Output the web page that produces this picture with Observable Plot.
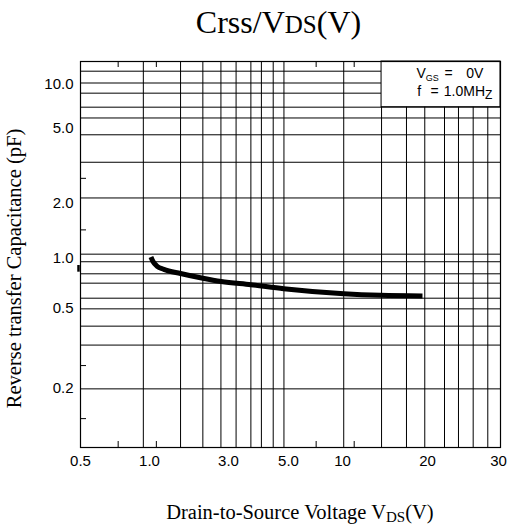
<!DOCTYPE html>
<html>
<head>
<meta charset="utf-8">
<script src="https://cdn.jsdelivr.net/npm/d3@7"></script>
<script src="https://cdn.jsdelivr.net/npm/@observablehq/plot@0.6"></script>
<style>
  body { margin: 0; background: #fff; }
  svg { display: block; }
</style>
</head>
<body>
<div id="chart"></div>
<script>
// ---- Axis ticks as printed ----
const xTicks = [0.5, 1, 3, 5, 10, 20, 30];
const xTickLabels = ["0.5", "1.0", "3.0", "5.0", "10", "20", "30"];
const yTicks = [0.2, 0.5, 1, 2, 5, 10];
const yTickLabels = ["0.2", "0.5", "1.0", "2.0", "5.0", "10.0"];

// ---- Grid lines (values on the printed axes) ----
const gridX = [0.94, 1.54, 2.10, 2.70, 3.20, 3.63, 3.97, 4.39, 4.81, 10.1, 13.75, 16.85, 19.56, 22.04, 23.87, 25.96, 28.22];
const gridY = [12.11, 10.15, 8.67, 6.97, 5.89, 4.63, 3.31, 2.14, 1.05, 0.95, 0.805, 0.708, 0.576, 0.498, 0.408, 0.328, 0.198];
const minorX = [0.73, 1.10, 7.13, 11.0];
const minorY = [2.72, 1.43, 0.259, 0.140];

// ---- Curve: Crss vs VDS ----
const vds  = [1.02, 1.05, 1.113, 1.22, 1.54, 2.10, 2.71, 3.63, 4.80, 10.11, 13.63, 19.2];
const crss = [1.013, 0.953, 0.892, 0.856, 0.808, 0.757, 0.724, 0.693, 0.656, 0.612, 0.599, 0.594];
const curve = vds.map((v, i) => ({vds: v, crss: crss[i]}));

// ---- Legend box extent (in axis values) ----
const legendX = [13.75, 30.3];
const legendY = [6.97, 14];

const titleText = "Crss/VDS(V)";
const xLabel = "Drain-to-Source Voltage VDS(V)";
const yLabel = "Reverse transfer Capacitance (pF)";
const legend1 = "VGS = 0V";
const legend2 = "f = 1.0MHZ";

const serif = "Liberation Serif";
const sans = "Liberation Sans";

const plot = Plot.plot({
  width: 507,
  height: 531,
  marginLeft: 80,
  marginRight: 7,
  marginTop: 61,
  marginBottom: 84,
  style: {fontFamily: sans, fontSize: "15px", background: "#fff", color: "#000"},
  x: {type: "log", domain: [0.5, 1, 3, 5, 10, 20, 30, 30.3], range: [80, 149, 228, 288, 342, 427, 498, 500], label: null, axis: null},
  y: {type: "log", domain: [0.1, 0.2, 0.5, 1, 2, 5, 10, 14], range: [447, 387.5, 308, 257.5, 203, 128, 83.5, 61], label: null, axis: null},
  marks: [
    Plot.ruleX(gridX, {stroke: "#000", strokeWidth: 1}),
    Plot.ruleY(gridY, {stroke: "#000", strokeWidth: 1}),
    Plot.rect([0], {x1: () => legendX[0], x2: () => legendX[1], y1: () => legendY[0], y2: () => legendY[1], fill: "#fff", stroke: "#000", strokeWidth: 1}),
    Plot.tickX(minorX, {insetTop: 380, stroke: "#000", strokeWidth: 1}),
    Plot.tickX(minorX, {insetBottom: 380, stroke: "#000", strokeWidth: 1}),
    Plot.tickY(minorY, {insetRight: 414, stroke: "#000", strokeWidth: 1}),
    Plot.frame({stroke: "#000", strokeWidth: 1.2}),
    Plot.ruleX([0.5], {y1: 0.823, y2: 0.902, stroke: "#000", strokeWidth: 2.5, dx: -2}),
    Plot.line(curve, {x: "vds", y: "crss", stroke: "#000", strokeWidth: 5, curve: "monotone-x", strokeLinecap: "butt"}),
    // tick labels
    Plot.text(xTicks, {x: d => d, text: (d, i) => xTickLabels[i], frameAnchor: "bottom", lineAnchor: "top", dy: 8, fontFamily: sans, fontSize: 15}),
    Plot.text(yTicks, {y: d => d, text: (d, i) => yTickLabels[i], frameAnchor: "left", textAnchor: "end", lineAnchor: "middle", dx: -7, fontFamily: sans, fontSize: 15}),
    // titles
    Plot.text([titleText], {text: d => d, frameAnchor: "top", textAnchor: "middle", dx: -12, dy: -29, lineAnchor: "bottom", fontFamily: serif, fontSize: 32}),
    Plot.text([xLabel], {text: d => d, frameAnchor: "bottom", textAnchor: "middle", dx: 9.4, dy: 71.3, lineAnchor: "bottom", fontFamily: serif, fontSize: 20.5}),
    Plot.text([yLabel], {text: d => d, frameAnchor: "left", textAnchor: "middle", rotate: -90, dx: -60, dy: 14, lineAnchor: "bottom", fontFamily: serif, fontSize: 20.5}),
    // legend
    Plot.text([legend1], {text: d => d, frameAnchor: "top-right", textAnchor: "start", dx: -84, dy: 16, lineAnchor: "bottom", fontFamily: sans, fontSize: 14}),
    Plot.text([legend2], {text: d => d, frameAnchor: "top-right", textAnchor: "start", dx: -83.3, dy: 34.3, lineAnchor: "bottom", fontFamily: sans, fontSize: 14})
  ]
});

// Subscripts / small caps
const richText = new Map([
  [titleText, 'Crss/V<tspan font-size="25">DS</tspan>(V)'],
  [xLabel, 'Drain-to-Source Voltage V<tspan font-size="15" dy="3.4">DS</tspan><tspan dy="-3.4">(V)</tspan>'],
  [legend1, 'V<tspan font-size="9" dy="3">GS</tspan><tspan dy="-3" dx="5.7">=</tspan><tspan dx="13.5">0V</tspan>'],
  [legend2, 'f<tspan dx="9.4">=</tspan><tspan dx="5.1">1.0MH</tspan><tspan font-size="12" dy="3.5">Z</tspan>']
]);
d3.select(plot).selectAll("text").each(function () {
  const t = this.textContent;
  if (richText.has(t)) this.innerHTML = richText.get(t);
});

document.getElementById("chart").appendChild(plot);
</script>
</body>
</html>
